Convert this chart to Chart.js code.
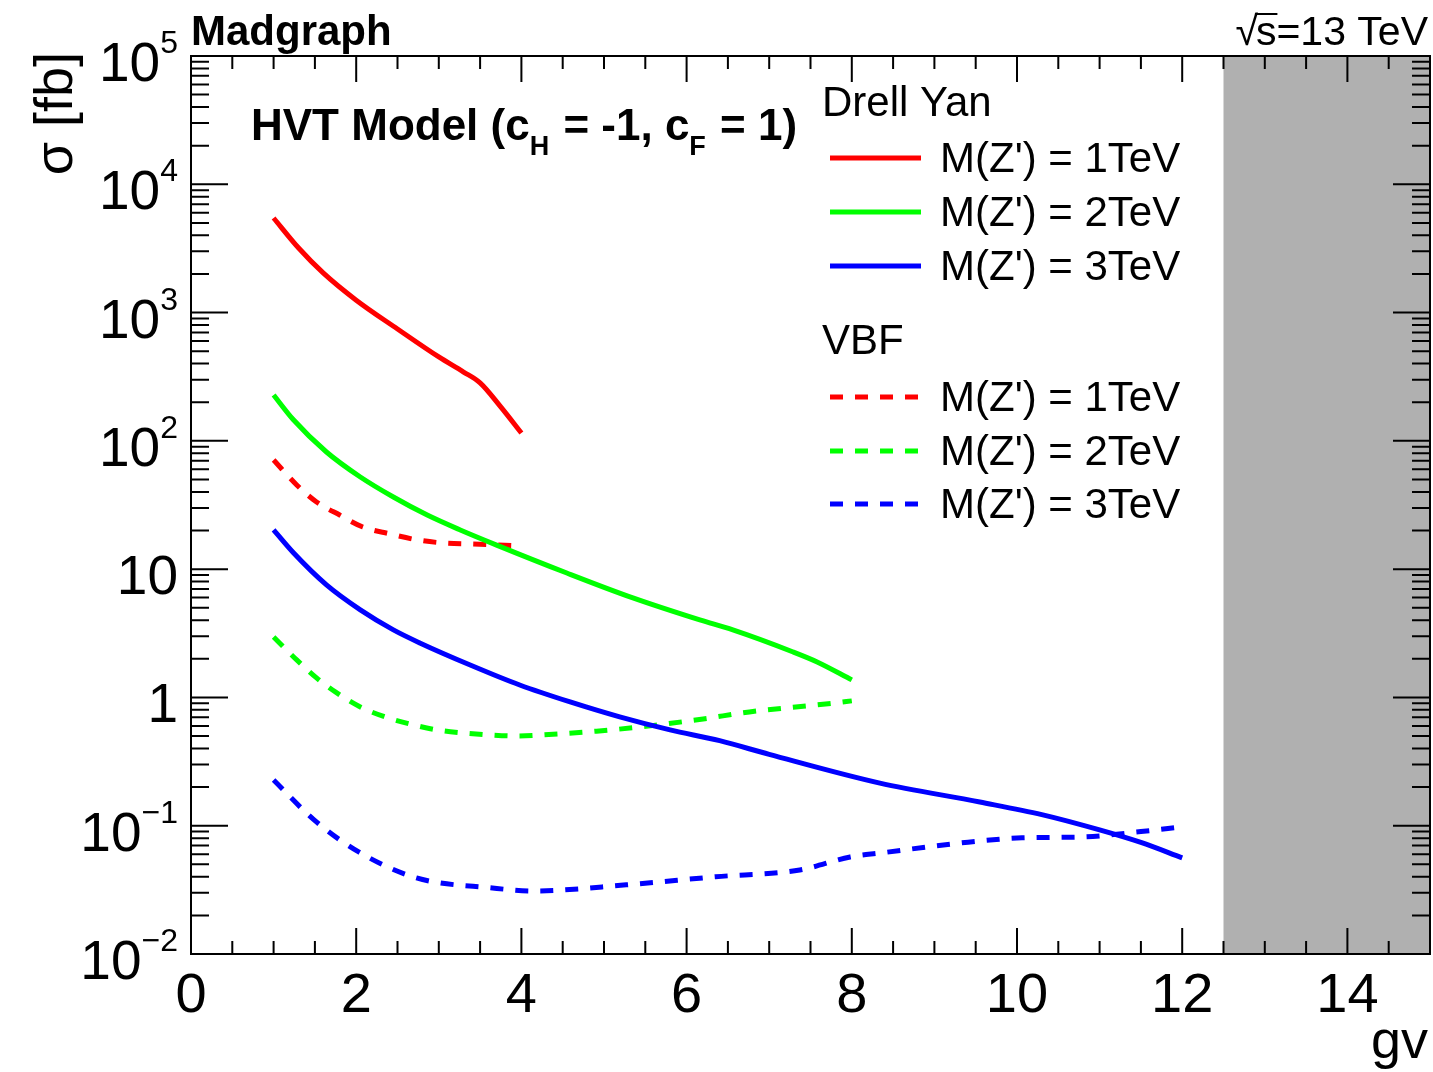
<!DOCTYPE html>
<html>
<head>
<meta charset="utf-8">
<script src="https://cdn.jsdelivr.net/npm/chart.js@4.4.1/dist/chart.umd.min.js"></script>
<style>
  html, body { margin: 0; padding: 0; background: #fff; }
  #wrap { width: 1433px; height: 1072px; }
</style>
</head>
<body>
<div id="wrap"><canvas id="xsec" width="1433" height="1072"></canvas></div>
<script>
// Drell Yan (solid)
const gvDY1 = [1, 1.3, 1.6, 2, 2.5, 3, 3.3, 3.5, 3.75, 4];
const sigmaDY1 = [5460, 3200, 2040, 1250, 745, 451, 344, 283, 184, 115];
const gvDY2 = [1, 1.24, 1.64, 2.05, 2.45, 2.86, 3.26, 3.7, 4.55, 5.35, 6.16, 6.56, 7.29, 7.58, 8];
const sigmaDY2 = [228, 146, 81.9, 52.3, 36.5, 26.4, 20.2, 15.4, 9.33, 5.97, 4.02, 3.36, 2.26, 1.89, 1.37];
const gvDY3 = [1, 1.24, 1.64, 2.05, 2.45, 2.77, 3.38, 3.98, 4.59, 5.19, 5.8, 6.4, 7, 8.34, 9.55, 10.3, 11, 11.5, 12];
const sigmaDY3 = [20.2, 13.4, 7.53, 4.81, 3.36, 2.66, 1.79, 1.25, 0.922, 0.705, 0.558, 0.46, 0.36, 0.215, 0.153, 0.122, 0.0927, 0.074, 0.0561];

// VBF (dashed)
const gvVBF1 = [1, 1.28, 1.52, 1.8, 2.08, 2.41, 2.74, 3.05, 3.4, 4];
const sigmaVBF1 = [71, 45.3, 33.4, 26.4, 21.3, 18.8, 16.9, 16.0, 15.7, 15.2];
const gvVBF2 = [1, 1.28, 1.52, 1.77, 2.05, 2.35, 2.65, 2.98, 3.29, 3.62, 3.95, 4.26, 4.91, 5.56, 6.2, 6.76, 7.8, 8];
const sigmaVBF2 = [2.96, 1.96, 1.42, 1.08, 0.843, 0.705, 0.621, 0.558, 0.529, 0.51, 0.50, 0.51, 0.546, 0.60, 0.68, 0.771, 0.906, 0.94];
const gvVBF3 = [1, 1.49, 2.03, 2.73, 3.65, 4.14, 5.27, 6.35, 7.37, 7.98, 8.35, 9.33, 10.06, 10.8, 11.5, 12];
const sigmaVBF3 = [0.227, 0.111, 0.0625, 0.0392, 0.0327, 0.031, 0.0346, 0.040, 0.0452, 0.0571, 0.0613, 0.0735, 0.0804, 0.0818, 0.09, 0.098];

const massLabels = ["M(Z') = 1TeV", "M(Z') = 2TeV", "M(Z') = 3TeV"];
const colors = ['#ff0000', '#00ff00', '#0000ff'];
const excludedRange = [12.5, 15];
const xTicks = [0, 2, 4, 6, 8, 10, 12, 14];
const yDecades = [-2, -1, 0, 1, 2, 3, 4, 5];

const FONT = '"Liberation Sans", Arial, Helvetica, sans-serif';
const font = (size, bold) => (bold ? 'bold ' : '') + size + 'px ' + FONT;

function points(xs, ys) {
  return xs.map((x, i) => ({ x: x, y: ys[i] }));
}

function line(label, group, xs, ys, color, dashed) {
  return {
    label: label,
    group: group,
    data: points(xs, ys),
    borderColor: color,
    borderWidth: 5,
    borderDash: dashed ? [13, 12] : [],
    pointRadius: 0,
    fill: false,
    cubicInterpolationMode: 'monotone'
  };
}

function drawPow(ctx, exp, right, baseline) {
  ctx.textAlign = 'left';
  ctx.textBaseline = 'alphabetic';
  if (exp === 0 || exp === 1) {
    ctx.font = font(55);
    const t = exp === 0 ? '1' : '10';
    ctx.fillText(t, right - ctx.measureText(t).width, baseline);
    return;
  }
  const sup = String(exp).replace('-', '\u2212');
  ctx.font = font(32);
  const supW = ctx.measureText(sup).width;
  ctx.font = font(55);
  const baseW = ctx.measureText('10').width;
  ctx.fillText('10', right - supW - baseW, baseline);
  ctx.font = font(32);
  ctx.fillText(sup, right - supW, baseline - 28);
}

const rootStyle = {
  id: 'rootStyle',
  beforeDatasetsDraw(chart) {
    const { ctx, chartArea: a, scales: { x } } = chart;
    const x0 = x.getPixelForValue(excludedRange[0]);
    const x1 = x.getPixelForValue(excludedRange[1]);
    ctx.save();
    ctx.fillStyle = '#b0b0b0';
    ctx.fillRect(x0, a.top, x1 - x0, a.bottom - a.top);
    ctx.restore();
  },
  afterDatasetsDraw(chart) {
    const { ctx, chartArea: a, scales: { x, y } } = chart;
    ctx.save();
    ctx.strokeStyle = '#000';
    ctx.fillStyle = '#000';
    ctx.lineWidth = 2;

    // ticks on all four sides
    ctx.beginPath();
    for (let v = 0; v <= 15; v += 0.5) {
      const px = x.getPixelForValue(v);
      const len = v % 2 === 0 ? 26 : 13;
      ctx.moveTo(px, a.bottom); ctx.lineTo(px, a.bottom - len);
      ctx.moveTo(px, a.top); ctx.lineTo(px, a.top + len);
    }
    for (let k = -2; k < 5; k++) {
      for (let m = 1; m <= 9; m++) {
        const py = y.getPixelForValue(m * Math.pow(10, k));
        const len = m === 1 ? 37 : 18;
        ctx.moveTo(a.left, py); ctx.lineTo(a.left + len, py);
        ctx.moveTo(a.right, py); ctx.lineTo(a.right - len, py);
      }
    }
    ctx.stroke();
    ctx.strokeRect(a.left, a.top, a.right - a.left, a.bottom - a.top);

    // tick labels
    ctx.font = font(56);
    ctx.textAlign = 'center';
    ctx.textBaseline = 'alphabetic';
    xTicks.forEach(v => ctx.fillText(String(v), x.getPixelForValue(v), a.bottom + 58));
    yDecades.forEach(k => drawPow(ctx, k, 178, y.getPixelForValue(Math.pow(10, k)) + 25));

    // axis titles
    ctx.font = font(54);
    ctx.textAlign = 'right';
    ctx.fillText('gv', 1428, 1058);
    ctx.save();
    ctx.translate(72, 52);
    ctx.rotate(-Math.PI / 2);
    ctx.textAlign = 'right';
    ctx.fillText('\u03c3 [fb]', 0, 0);
    ctx.restore();

    // header texts
    ctx.textAlign = 'left';
    ctx.font = font(42, true);
    ctx.fillText('Madgraph', 191, 45);

    ctx.font = font(41);
    const sText = 's=13 TeV';
    const sW = ctx.measureText(sText).width;
    const sX = 1428 - sW;
    const rootW = ctx.measureText('\u221a').width;
    ctx.fillText(sText, sX, 45);
    ctx.fillText('\u221a', sX - rootW + 2, 45);
    ctx.beginPath();
    ctx.lineWidth = 2;
    ctx.moveTo(sX - 1, 14);
    ctx.lineTo(sX + ctx.measureText('s').width + 1, 14);
    ctx.stroke();

    // model text with subscripts
    let cx = 251;
    const base = 140;
    const parts = [['HVT Model (c', 0], ['H', 1], [' = -1, c', 0], ['F', 1], [' = 1)', 0]];
    parts.forEach(([t, sub]) => {
      ctx.font = sub ? font(27, true) : font(44, true);
      ctx.fillText(t, cx, sub ? base + 15 : base);
      cx += ctx.measureText(t).width + (sub ? 2 : 0);
    });

    // legend
    ctx.font = font(42);
    ctx.fillText('Drell Yan', 822, 116);
    ctx.fillText('VBF', 822, 354);
    const rowY = { DY: [158, 212, 266], VBF: [397, 451, 504] };
    const count = { DY: 0, VBF: 0 };
    chart.data.datasets.forEach(ds => {
      const ly = rowY[ds.group][count[ds.group]++];
      ctx.beginPath();
      ctx.strokeStyle = ds.borderColor;
      ctx.lineWidth = 5;
      ctx.setLineDash(ds.borderDash);
      ctx.moveTo(830, ly);
      ctx.lineTo(921, ly);
      ctx.stroke();
      ctx.setLineDash([]);
      ctx.fillStyle = '#000';
      ctx.font = font(42);
      ctx.fillText(ds.label, 940, ly + 14);
    });
    ctx.restore();
  }
};

const hiddenAxis = {
  ticks: { display: false },
  grid: { display: false },
  border: { display: false }
};

new Chart(document.getElementById('xsec').getContext('2d'), {
  type: 'line',
  data: {
    datasets: [
      line(massLabels[0], 'DY', gvDY1, sigmaDY1, colors[0], false),
      line(massLabels[1], 'DY', gvDY2, sigmaDY2, colors[1], false),
      line(massLabels[2], 'DY', gvDY3, sigmaDY3, colors[2], false),
      line(massLabels[0], 'VBF', gvVBF1, sigmaVBF1, colors[0], true),
      line(massLabels[1], 'VBF', gvVBF2, sigmaVBF2, colors[1], true),
      line(massLabels[2], 'VBF', gvVBF3, sigmaVBF3, colors[2], true)
    ]
  },
  options: {
    responsive: false,
    animation: false,
    devicePixelRatio: 1,
    layout: { padding: { left: 191, right: 3, top: 56, bottom: 118 } },
    scales: {
      x: Object.assign({ type: 'linear', min: 0, max: 15, afterFit: s => { s.height = 0; } }, hiddenAxis),
      y: Object.assign({ type: 'logarithmic', min: 0.01, max: 1e5, afterFit: s => { s.width = 0; } }, hiddenAxis)
    },
    plugins: {
      legend: { display: false },
      tooltip: { enabled: false }
    }
  },
  plugins: [rootStyle]
});
</script>
</body>
</html>
